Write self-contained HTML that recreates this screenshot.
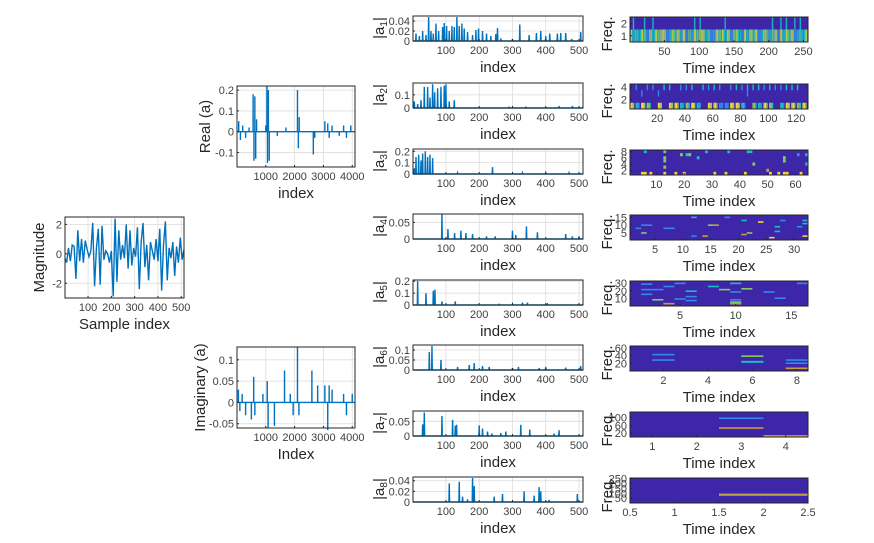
<!DOCTYPE html>
<html><head><meta charset="utf-8"><style>
body{margin:0;background:#fff;width:874px;height:538px;overflow:hidden;font-family:"Liberation Sans",Arial,sans-serif}
svg text{font-family:"Liberation Sans",Arial,sans-serif}
</style></head><body>
<svg id="fig" width="874" height="538" viewBox="0 0 874 538" xmlns="http://www.w3.org/2000/svg"></svg>
<script>
// ---------- data ----------
const magX=[1,8,16,24,32,40,48,56,64,72,80,88,96,104,112,120,128,136,144,152,160,168,176,184,192,200,208,216,224,232,240,248,256,264,272,280,288,296,304,312,320,328,336,344,352,360,368,376,384,392,400,408,416,424,432,440,448,456,464,472,480,488,496,504,512];
const magY=[-0.3,-0.6,0.4,-0.5,0.6,0.5,-1.7,1.6,-0.5,1.0,-0.6,0.9,0.3,-0.2,0.2,2.1,-2.2,0.4,1.7,-2.1,1.9,-0.4,0.2,0.0,-0.6,0.2,-2.9,2.4,-1.9,1.6,-0.4,0.6,-0.3,2.0,-1.0,1.6,-0.8,0.4,-0.2,1.8,-2.4,0.8,2.1,-0.9,0.6,-1.8,0.8,0.2,-0.4,1.0,-0.5,1.7,-2.5,0.6,2.2,-1.8,0.4,-0.3,0.8,-1.5,0.5,-0.6,1.1,-0.4,0.3];
const realSpikes=[[60,0.05],[120,-0.04],[200,0.03],[300,-0.03],[420,0.02],[560,0.18],[590,-0.14],[620,0.17],[650,-0.13],[680,0.06],[1000,0.03],[1040,0.22],[1060,-0.15],[1090,0.2],[1120,-0.14],[1400,-0.02],[1700,0.02],[2100,0.2],[2130,-0.08],[2160,0.07],[2650,-0.11],[2700,-0.03],[3050,0.05],[3150,0.04],[3200,-0.03],[3300,0.03],[3550,-0.02],[3700,0.03],[3800,-0.03],[3950,0.03]];
const imagSpikes=[[50,0.03],[100,-0.02],[180,0.02],[300,-0.03],[500,-0.04],[580,0.06],[620,-0.03],[900,0.02],[1050,0.05],[1080,-0.06],[1300,-0.055],[1650,0.075],[1850,0.02],[1950,-0.03],[2100,0.13],[2150,-0.03],[2600,0.075],[2800,0.04],[3050,0.04],[3150,-0.065],[3200,0.04],[3300,0.03],[3700,0.02],[3800,-0.03],[4000,0.02]];
const aSpikes=[
 [[10,0.015],[20,0.01],[30,0.02],[40,0.012],[48,0.048],[55,0.02],[62,0.015],[70,0.035],[78,0.02],[90,0.028],[95,0.036],[102,0.03],[110,0.02],[118,0.03],[125,0.028],[133,0.048],[140,0.03],[148,0.035],[155,0.025],[165,0.018],[180,0.012],[190,0.022],[198,0.025],[210,0.02],[222,0.015],[235,0.01],[250,0.014],[255,0.026],[265,0.005],[300,0.004],[322,0.033],[350,0.012],[372,0.016],[385,0.02],[400,0.01],[412,0.015],[435,0.015],[445,0.016],[460,0.016],[478,0.004],[505,0.018]],
 [[5,0.05],[15,0.03],[25,0.06],[35,0.16],[45,0.16],[52,0.08],[60,0.18],[66,0.12],[75,0.15],[85,0.16],[95,0.17],[100,0.18],[110,0.05],[125,0.06],[290,0.01],[340,0.01],[440,0.015],[480,0.015]],
 [[5,0.05],[10,0.15],[18,0.17],[25,0.12],[30,0.18],[38,0.2],[45,0.15],[52,0.17],[60,0.14],[135,0.01],[240,0.06],[330,0.01],[400,0.01],[470,0.01]],
 [[88,0.075],[106,0.03],[126,0.018],[145,0.025],[160,0.018],[180,0.015],[222,0.008],[248,0.008],[300,0.025],[310,0.012],[342,0.038],[375,0.02],[460,0.015],[480,0.008],[500,0.008]],
 [[15,0.2],[40,0.1],[62,0.12],[67,0.13],[88,0.03],[128,0.03],[260,0.005],[300,0.008],[330,0.02],[345,0.02],[405,0.015]],
 [[50,0.09],[58,0.12],[85,0.05],[135,0.015],[170,0.025],[185,0.035],[210,0.02],[230,0.015],[300,0.01],[318,0.015],[380,0.01],[400,0.015],[460,0.012],[505,0.02]],
 [[30,0.04],[35,0.08],[88,0.068],[120,0.055],[128,0.035],[132,0.038],[200,0.036],[210,0.025],[225,0.015],[238,0.008],[265,0.01],[280,0.015],[325,0.038],[352,0.022],[425,0.008],[440,0.02]],
 [[110,0.035],[140,0.038],[150,0.01],[165,0.005],[180,0.045],[185,0.03],[245,0.01],[270,0.015],[335,0.02],[365,0.012],[380,0.028],[385,0.02],[410,0.004],[495,0.015]]
];
const aYmax=[0.05,0.19,0.22,0.075,0.21,0.125,0.085,0.047];
const aYticks=[[0,0.02,0.04],[0,0.1],[0,0.1,0.2],[0,0.05],[0,0.1,0.2],[0,0.05,0.1],[0,0.05],[0,0.02,0.04]];
const aYtickLbl=[["0","0.02","0.04"],["0","0.1"],["0","0.1","0.2"],["0","0.05"],["0","0.1","0.2"],["0","0.05","0.1"],["0","0.05"],["0","0.02","0.04"]];
// heatmaps: rows as level strings (0=background), each char covers 4 time steps
const hm1Row1="4232431424344124342413243442312434241342142434124323414243412324";
const hm1Row2="0200020020000000000000020200000000200000000000000002002020020200";
const hm2Rows=["42430404423420441144203243024434","00000000000000000000000000000000","00100100000000000000010000000000","01011022011202121012122212112220"];
const hm3Cells=[[5,1,4],[6,1,4],[8,1,4],[13,1,4],[17,1,4],[20,1,4],[31,1,4],[35,1,4],[42,1,4],[51,1,4],[54,1,4],[56,1,4],[57,1,4],[62,1,4],[13,3,3],[45,4,3],[50,2,5],[64,4,2],[13,5,3],[13,6,3],[56,6,3],[56,5,3],[19,7,3],[21,7,2],[22,7,3],[25,6,2],[6,8,2],[13,8,3],[28,8,2],[36,8,2],[43,8,2],[44,8,2],[61,7,1],[64,7,2]];
const hm4Cells=[[2,8,1],[3,10,1],[4,10,1],[7,8,1],[8,8,1],[3,5,3],[12,3,1],[12,15,2],[14,3,5],[15,10,3],[16,10,5],[21,13,2],[21,4,5],[22,5,3],[24,12,4],[26,2,4],[27,9,2],[27,6,2],[28,13,1],[31,9,1],[32,13,2],[32,11,2],[32,3,4],[18,15,1]];
const hm5Cells=[[2,29,1],[2,22,1],[3,22,1],[2,16,1],[3,9,3],[4,4,5],[4,26,1],[5,30,1],[5,10,1],[6,20,2],[6,13,1],[6,8,1],[8,26,2],[9,22,3],[10,30,2],[10,19,1],[10,9,1],[10,4,5],[10,6,3],[11,23,3],[13,19,1],[14,11,1],[16,30,1]];
const hm6Cells=[[2,44,1],[2,30,1],[6,40,3],[6,26,2],[6,25,2],[8,30,1],[8,22,1],[8,9,5]];
const hm7Cells=[[3,100,1],[3,50,5],[4,10,5]];
const hm8Cells=[[2,96,3],[2,90,5]];
const parula=["#3e26a8","#2f89ee","#19bfc4","#86cb5a","#f4d736","#c99a40"];

// ---------- helpers ----------
const NS="http://www.w3.org/2000/svg";
const svg=document.getElementById('fig');
function mk(tag,attrs,parent){const e=document.createElementNS(NS,tag);for(const k in attrs)e.setAttribute(k,attrs[k]);(parent||svg).appendChild(e);return e;}
function txt(s,x,y,size,anchor,parent,rot){const t=mk('text',{x:x,y:y,'font-size':size,'text-anchor':anchor||'middle',fill:'#262626'},parent);if(rot)t.setAttribute('transform','rotate(-90 '+x+' '+y+')');t.textContent=s;return t;}

function axes(o){
  const g=mk('g',{});
  
  
  const sx=v=>o.x+(v-o.xmin)/(o.xmax-o.xmin)*o.w;
  const sy=v=>o.y+o.h-(v-o.ymin)/(o.ymax-o.ymin)*o.h;
  mk('rect',{x:o.x,y:o.y,width:o.w,height:o.h,fill:o.bg||'#fff'},g);
  return {g,sx,sy,finish(){
    if(o.grid){
      o.xticks.forEach(v=>mk('line',{x1:sx(v),x2:sx(v),y1:o.y,y2:o.y+o.h,stroke:'#dcdcdc','stroke-width':0.8},g));
      o.yticks.forEach(v=>mk('line',{x1:o.x,x2:o.x+o.w,y1:sy(v),y2:sy(v),stroke:'#dcdcdc','stroke-width':0.8},g));
    }
  },frame(){
    mk('rect',{x:o.x,y:o.y,width:o.w,height:o.h,fill:'none',stroke:'#262626','stroke-width':1},g);
    const fs=o.fs||11;
    o.xticks.forEach((v,i)=>{mk('line',{x1:sx(v),x2:sx(v),y1:o.y+o.h,y2:o.y+o.h-2,stroke:'#262626'},g);
      const t=txt(o.xtl?o.xtl[i]:String(v),sx(v),o.y+o.h+fs+2,fs,'middle',g);t.setAttribute('fill','#404040');});
    o.yticks.forEach((v,i)=>{mk('line',{x1:o.x,x2:o.x+2,y1:sy(v),y2:sy(v),stroke:'#262626'},g);
      const t=txt(o.ytl?o.ytl[i]:String(v),o.x-3,sy(v)+4,fs,'end',g);t.setAttribute('fill','#404040');});
    if(o.xlabel){const t=txt(o.xlabel,o.x+o.w/2,o.y+o.h+fs+20,15,'middle',g);}
    if(o.ylabel){const t=txt(o.ylabel,o.ylx,o.y+o.h/2,15,'middle',g,true);}
  }};
}
const blue='#0072bd';
function spikeLine(ax,spikes,xmin,xmax,base){
  let d='M'+ax.sx(xmin)+' '+ax.sy(base);
  spikes.forEach(([i,v])=>{d+=' L'+ax.sx(i-1)+' '+ax.sy(base)+' L'+ax.sx(i)+' '+ax.sy(v)+' L'+ax.sx(i+1)+' '+ax.sy(base);});
  d+=' L'+ax.sx(xmax)+' '+ax.sy(base);
  const p=mk('path',{d:d,fill:'none',stroke:blue,'stroke-width':1.4},ax.g);
  
  
}

// ---------- magnitude ----------
{
  const o={name:'magnitude-plot',x:65,y:217,w:119,h:81,xmin:1,xmax:512,ymin:-3,ymax:2.5,xticks:[100,200,300,400,500],yticks:[-2,0,2],grid:true,xlabel:'Sample index',ylabel:'Magnitude',ylx:44};
  const ax=axes(o);ax.finish();
  let d='';magX.forEach((x,i)=>{d+=(i?' L':'M')+ax.sx(x)+' '+ax.sy(magY[i]);});
  const p=mk('path',{d:d,fill:'none',stroke:blue,'stroke-width':1.4},ax.g);
  
  
  ax.frame();
}
// ---------- real / imag ----------
{
  const o={name:'real-part-plot',x:237,y:86,w:118,h:81,xmin:1,xmax:4096,ymin:-0.17,ymax:0.22,xticks:[1000,2000,3000,4000],yticks:[-0.1,0,0.1,0.2],ytl:['-0.1','0','0.1','0.2'],grid:true,xlabel:'index',ylabel:'Real (a)',ylx:210};
  const ax=axes(o);ax.finish();spikeLine(ax,realSpikes,1,4096,0);ax.frame();
}
{
  const o={name:'imaginary-part-plot',x:237,y:347,w:118,h:81,xmin:1,xmax:4096,ymin:-0.06,ymax:0.13,xticks:[1000,2000,3000,4000],yticks:[-0.05,0,0.05,0.1],ytl:['-0.05','0','0.05','0.1'],grid:true,xlabel:'Index',ylabel:'Imaginary (a)',ylx:205};
  const ax=axes(o);ax.finish();spikeLine(ax,imagSpikes,1,4096,0);ax.frame();
}
// ---------- |a_k| ----------
const aTops=[16,83,149,214,280,345,411,477];
aSpikes.forEach((sp,k)=>{
  const o={name:'coef-a'+(k+1)+'-plot',x:413,y:aTops[k],w:170,h:25,xmin:1,xmax:512,ymin:0,ymax:aYmax[k],xticks:[100,200,300,400,500],yticks:aYticks[k],ytl:aYtickLbl[k],grid:true,xlabel:'index'};
  const ax=axes(o);ax.finish();spikeLine(ax,sp,1,512,0);ax.frame();
  const cy=aTops[k]+12;
  const t=mk('text',{x:384,y:cy,'font-size':15,'text-anchor':'middle',fill:'#262626',transform:'rotate(-90 384 '+cy+')'},ax.g);
  
  
  t.innerHTML='|a<tspan font-size="10" dy="3">'+(k+1)+'</tspan><tspan dy="-3">|</tspan>';
});
// ---------- heatmaps ----------
const hmSpecs=[
 {T:256,F:2,yt:[1,2],xt:[50,100,150,200,250]},
 {T:128,F:4,yt:[2,4],xt:[20,40,60,80,100,120]},
 {T:64,F:8,yt:[2,4,6,8],xt:[10,20,30,40,50,60]},
 {T:32,F:16,yt:[5,10,15],xt:[5,10,15,20,25,30]},
 {T:16,F:32,yt:[10,20,30],xt:[5,10,15]},
 {T:8,F:64,yt:[20,40,60],xt:[2,4,6,8]},
 {T:4,F:128,yt:[20,60,100],xt:[1,2,3,4]},
 {T:2,F:256,yt:[50,100,150,200,250],xt:[0.5,1,1.5,2,2.5]}
];
const hmCellsList=[null,null,hm3Cells,hm4Cells,hm5Cells,hm6Cells,hm7Cells,hm8Cells];
hmSpecs.forEach((s,k)=>{
  const o={name:'spectrogram-'+(k+1),x:630,y:aTops[k]+1,w:178,h:25,xmin:0.5,xmax:s.T+0.5,ymin:0.5,ymax:s.F+0.5,xticks:s.xt,yticks:s.yt,xlabel:'Time index',bg:parula[0]};
  const ax=axes(o);
  const cell=(t,f,l)=>{const r=mk('rect',{x:ax.sx(t-0.5),y:ax.sy(f+0.5),width:Math.max(ax.sx(t+0.5)-ax.sx(t-0.5),0.6),height:Math.max(ax.sy(f-0.5)-ax.sy(f+0.5),1.6),fill:parula[l]},ax.g);
    
    };
  if(k===0){
    [hm1Row1,hm1Row2].forEach((row,fi)=>{[...row].forEach((c,j)=>{const l=+c;if(l){cell(j*4+1,fi+1,l);cell(j*4+2,fi+1,l>1&&fi===0?l-1:l);if(fi===0){cell(j*4+3,1,l);cell(j*4+4,1,l>2?l-2:l);}}});});
  } else if(k===1){
    hm2Rows.forEach((row,ri)=>{[...row].forEach((c,j)=>{const l=+c;if(l){cell(j*4+1,ri+1,l);if(ri===0){cell(j*4+2,1,l);cell(j*4+3,1,l>1?l-1:l);}}});});
  } else {
    hmCellsList[k].forEach(([t,f,l])=>cell(t,f,l));
  }
  ax.frame();
  const cy=aTops[k]+13;
  const t=txt('Freq.',612,cy+5,15,'middle',ax.g,true);
  
  
});
</script>
</body></html>
